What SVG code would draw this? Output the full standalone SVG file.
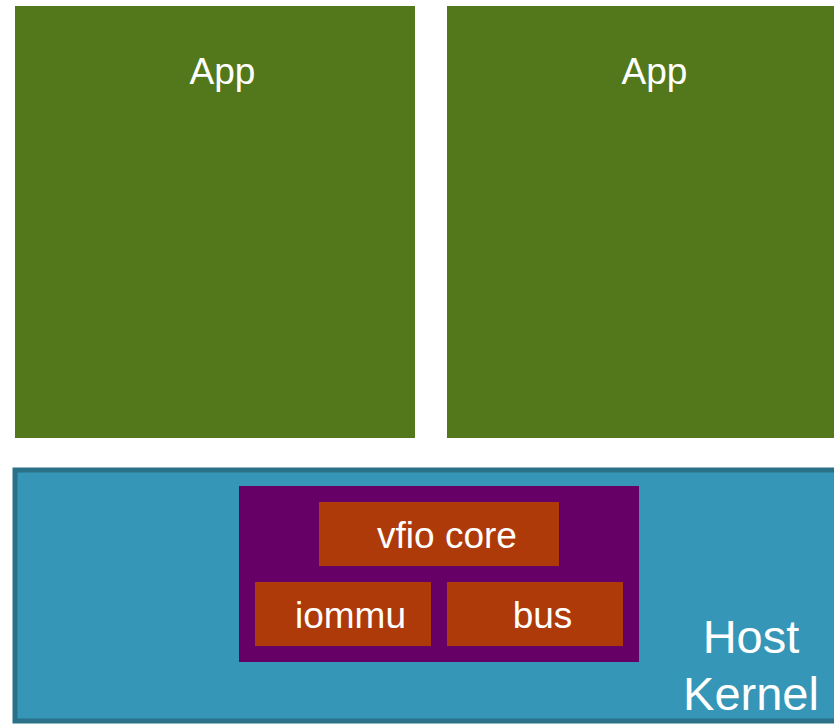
<svg xmlns="http://www.w3.org/2000/svg" width="834" height="724" viewBox="0 0 834 724">
<style>
.app{fill:#52781b}
.mod{fill:#ae3a0a}
.t{font-family:"Liberation Sans",Arial,sans-serif;fill:#ffffff;text-anchor:middle}
.s36{font-size:37px}
.s46{font-size:47px}
</style>
<rect width="834" height="724" fill="#ffffff"/>
<g id="app1"><rect class="app" x="15" y="6" width="400" height="432"/><text class="t s36" x="222.5" y="84">App</text></g>
<g id="app2"><rect class="app" x="447" y="6" width="400" height="432"/><text class="t s36" x="654.5" y="84">App</text></g>
<g id="host"><rect x="15" y="470" width="830" height="251" fill="#3596b8" stroke="#2a7089" stroke-width="5"/><text class="t s46" x="751" y="653">Host</text><text class="t s46" x="751" y="710">Kernel</text></g>
<g id="vfio"><rect x="239" y="486" width="400" height="176" fill="#660066"/></g>
<g id="core"><rect class="mod" x="319" y="502" width="240" height="64"/><text class="t s36" x="447" y="548">vfio core</text></g>
<g id="iommu"><rect class="mod" x="255" y="582" width="176" height="64"/><text class="t s36" x="350.5" y="628">iommu</text></g>
<g id="bus"><rect class="mod" x="447" y="582" width="176" height="64"/><text class="t s36" x="542.5" y="628">bus</text></g>
<g id="connectors"/>
</svg>
